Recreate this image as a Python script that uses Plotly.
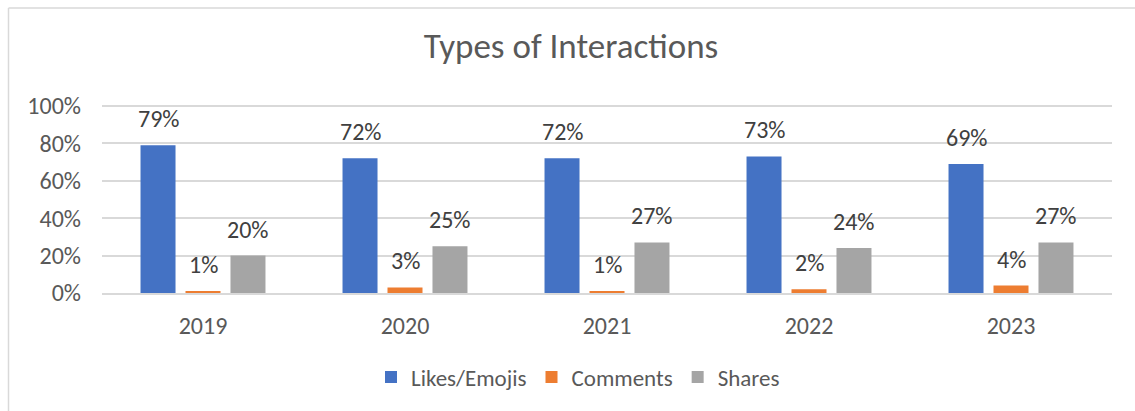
import plotly.graph_objects as go

years = ["2019", "2020", "2021", "2022", "2023"]
likes = [0.79, 0.72, 0.72, 0.73, 0.69]
comments = [0.01, 0.03, 0.01, 0.02, 0.04]
shares = [0.20, 0.25, 0.27, 0.24, 0.27]
series_names = ["Likes/Emojis", "Comments", "Shares"]
colors = ["#4472C4", "#ED7D31", "#A5A5A5"]

FONT = "Carlito, Calibri, Lato, sans-serif"
FS = 24
W, H = 1135, 411
L, R, T, B = 102, 23, 104, 118
pw, ph = W - L - R, H - T - B

fig = go.Figure()
for name, vals, col in zip(series_names, [likes, comments, shares], colors):
    fig.add_trace(go.Bar(x=years, y=vals, name=name, marker=dict(color=col, line=dict(width=0)),
                         hoverinfo="skip"))

annotations = []
slot = pw / 5 * (1 - 0.332) / 3
for i, vals in enumerate([likes, comments, shares]):
    for idx, v in enumerate(vals):
        annotations.append(dict(x=idx, y=v, xref="x", yref="y", text=f"{round(v*100)}%",
                                showarrow=False, yanchor="bottom", xanchor="center",
                                xshift=(i - 1) * slot, yshift=10,
                                font=dict(family=FONT, size=FS, color="#404040")))

def px_x(p):
    return (p - L) / pw

def px_y(p):
    return (H - B - p) / ph

shapes = [
    dict(type="line", xref="paper", yref="paper", x0=px_x(8.5), x1=px_x(1140), y0=px_y(8), y1=px_y(8),
         line=dict(color="#D9D9D9", width=1.5), layer="below"),
    dict(type="line", xref="paper", yref="paper", x0=px_x(8.5), x1=px_x(8.5), y0=px_y(8), y1=px_y(420),
         line=dict(color="#D9D9D9", width=1.5), layer="below"),
]

fig.update_layout(
    width=W, height=H,
    margin=dict(l=L, r=R, t=T, b=B),
    paper_bgcolor="white", plot_bgcolor="white",
    barmode="group", bargap=0.332, bargroupgap=0.222,
    title=dict(text="Types of Interactions", x=571 / W, xanchor="center", xref="container",
               y=1 - 46 / H, yanchor="middle", yref="container",
               font=dict(family=FONT, size=35, color="#595959")),
    xaxis=dict(type="category", range=[-0.5, 4.5], showgrid=False, showline=True,
               linecolor="#D9D9D9", linewidth=1.5,
               ticks="", ticklabelstandoff=10,
               tickfont=dict(family=FONT, size=FS, color="#595959")),
    yaxis=dict(range=[0, 1.01], tickvals=[0, 0.2, 0.4, 0.6, 0.8, 1.0],
               ticktext=["0%", "20%", "40%", "60%", "80%", "100%"],
               showgrid=True, gridcolor="#D9D9D9", gridwidth=1.5, zeroline=False,
               showline=False, ticks="", ticklabelstandoff=20,
               tickfont=dict(family=FONT, size=FS, color="#595959")),
    legend=dict(orientation="h", x=px_x(578), xanchor="center", y=1 - 377 / H, yanchor="middle",
                yref="container", font=dict(family=FONT, size=23, color="#595959"),
                itemclick=False, itemdoubleclick=False),
    annotations=annotations,
    shapes=shapes,
    showlegend=True,
)

fig.write_html("out.html")
